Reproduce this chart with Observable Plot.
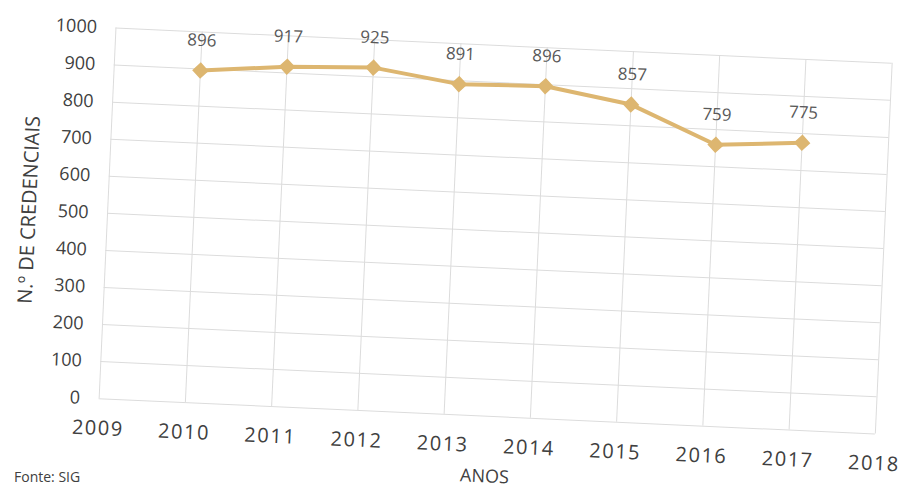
<!DOCTYPE html>
<html>
<head>
<meta charset="utf-8">
<script src="https://cdn.jsdelivr.net/npm/d3@7"></script>
<script src="https://cdn.jsdelivr.net/npm/@observablehq/plot@0.6"></script>
<style>
  html, body { margin: 0; padding: 0; background: #fff; overflow: hidden; width: 902px; height: 488px; }
  #wrap { position: absolute; left: 0; top: 0; width: 902px; height: 488px; transform: rotate(2.6deg); transform-origin: 451px 244px; }
  #wrap svg { overflow: visible; }
  #caption { position: absolute; left: 14px; top: 468px; font: 14px "Open Sans", sans-serif; color: #404040; line-height: 18px; }
  g[aria-label="x-axis tick label"] text { font-size: 20px; letter-spacing: 1.5px; }
  g[aria-label="y-axis tick label"] text { font-size: 18px; }
  g[aria-label="x-axis label"] text { font-size: 18px; }
  g[aria-label="y-axis label"] text { font-size: 20px; }
</style>
</head>
<body>
<div id="wrap"></div>
<div id="caption">Fonte: SIG</div>
<script>
const years = [2010, 2011, 2012, 2013, 2014, 2015, 2016, 2017];
const credenciais = [896, 917, 925, 891, 896, 857, 759, 775];
const xTicks = [2009, 2010, 2011, 2012, 2013, 2014, 2015, 2016, 2017, 2018];
const yTicks = [0, 100, 200, 300, 400, 500, 600, 700, 800, 900, 1000];

const data = years.map((y, i) => ({year: y, value: credenciais[i]}));
const lineColor = "#ddb670";

const chart = Plot.plot({
  width: 902,
  height: 488,
  marginLeft: 106,
  marginRight: 19,
  marginTop: 43,
  marginBottom: 74,
  style: {fontFamily: "'Open Sans', sans-serif", color: "#404040", background: "transparent", overflow: "visible"},
  x: {domain: [2009, 2018], ticks: xTicks, tickFormat: d => String(d)},
  y: {domain: [0, 1000], ticks: yTicks, tickFormat: d => String(d)},
  marks: [
    Plot.gridX(xTicks, {stroke: "#dcdcdc", strokeOpacity: 1}),
    Plot.gridY(yTicks, {stroke: "#dcdcdc", strokeOpacity: 1}),
    Plot.axisX({ticks: xTicks, tickSize: 0, tickPadding: 22, label: "ANOS", labelAnchor: "center", labelArrow: "none", labelOffset: 66, tickFormat: d => String(d)}),
    Plot.axisY({ticks: yTicks, tickSize: 0, tickPadding: 19, label: "N.º DE CREDENCIAIS", labelAnchor: "center", labelArrow: "none", labelOffset: 86, tickFormat: d => String(d)}),
    Plot.line(data, {x: "year", y: "value", stroke: lineColor, strokeWidth: 4}),
    Plot.dot(data, {x: "year", y: "value", symbol: "diamond2", r: 6.5, fill: lineColor, stroke: lineColor}),
    Plot.text(data, {x: "year", y: "value", text: d => String(d.value), dy: -30, fontSize: 17, fill: "#595959"})
  ]
});

document.getElementById("wrap").appendChild(chart);
</script>
</body>
</html>
